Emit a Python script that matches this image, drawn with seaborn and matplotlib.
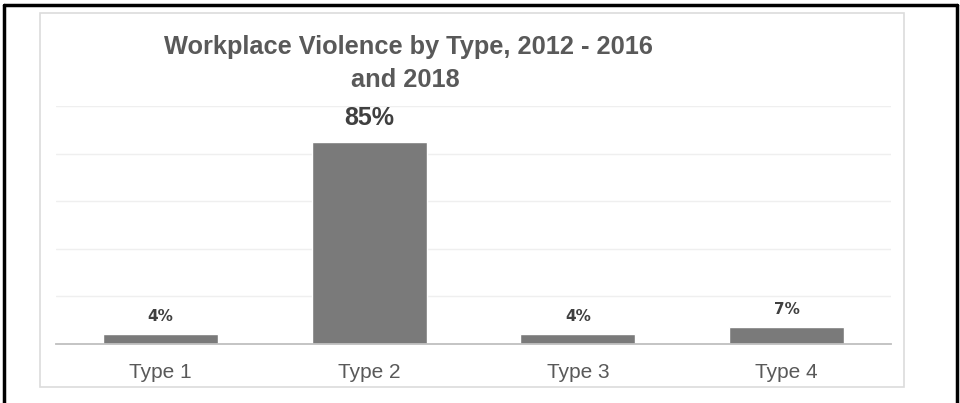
import matplotlib
matplotlib.use("Agg")
import matplotlib.pyplot as plt
from matplotlib.patches import Rectangle
from matplotlib.lines import Line2D
import seaborn as sns
import pandas as pd

categories = ["Type 1", "Type 2", "Type 3", "Type 4"]
shares = [4, 85, 4, 7]
labels = ["4%", "85%", "4%", "7%"]

sns.set_theme(style="white")
plt.rcParams["font.family"] = ["Liberation Sans", "DejaVu Sans"]

W, H = 960, 403
fig = plt.figure(figsize=(W / 100, H / 100), dpi=100)

def fx(px):
    return px / W

def fy(py):
    return 1 - py / H

# outer black frame (top, left, right)
for xs, ys in [((3.5, 957), (4.5, 4.5)), ((3.5, 3.5), (4.5, 403)), ((957, 957), (4.5, 403))]:
    fig.add_artist(Line2D([fx(x) for x in xs], [fy(y) for y in ys],
                          color="black", lw=2.5, transform=fig.transFigure))

# light chart-area border
fig.add_artist(Rectangle((fx(40), fy(387)), fx(904) - fx(40), fy(13) - fy(387),
                         transform=fig.transFigure, fill=False,
                         edgecolor="#dcdcdc", lw=1.2))

ax = fig.add_axes([fx(56), fy(344), fx(891) - fx(56), fy(106) - fy(344)])
df = pd.DataFrame({"category": categories, "share": shares})
sns.barplot(data=df, x="category", y="share", color="#7a7a7a", width=0.55,
            saturation=1, ax=ax)

ax.set_ylim(0, 100)
ax.set_yticks([20, 40, 60, 80, 100])
ax.yaxis.grid(True, color="#efefef", lw=1)
ax.set_axisbelow(True)
ax.tick_params(axis="y", left=False, labelleft=False)
ax.tick_params(axis="x", bottom=False, labelsize=15, labelcolor="#595959", pad=8)
ax.set_xlabel("")
ax.set_ylabel("")
for s in ["top", "right", "left"]:
    ax.spines[s].set_visible(False)
ax.spines["bottom"].set_color("#bfbfbf")
ax.spines["bottom"].set_linewidth(1.3)
ax.patch.set_alpha(0)

for bar, lab, val in zip(ax.patches, labels, shares):
    big = val == max(shares)
    ax.annotate(lab, (bar.get_x() + bar.get_width() / 2, bar.get_height()),
                xytext=(0, 12 if big else 9.5), textcoords="offset points",
                ha="center", va="baseline", fontweight="bold",
                fontsize=18 if big else 11,
                family="Liberation Sans" if big else "DejaVu Sans",
                color="#404040")

fig.text(fx(408), fy(54), "Workplace Violence by Type, 2012 - 2016",
         ha="center", va="baseline", fontsize=18.3, fontweight="bold", color="#595959")
fig.text(fx(405), fy(87), "and 2018",
         ha="center", va="baseline", fontsize=18.3, fontweight="bold", color="#595959")

fig.savefig("out.png", dpi=100)
